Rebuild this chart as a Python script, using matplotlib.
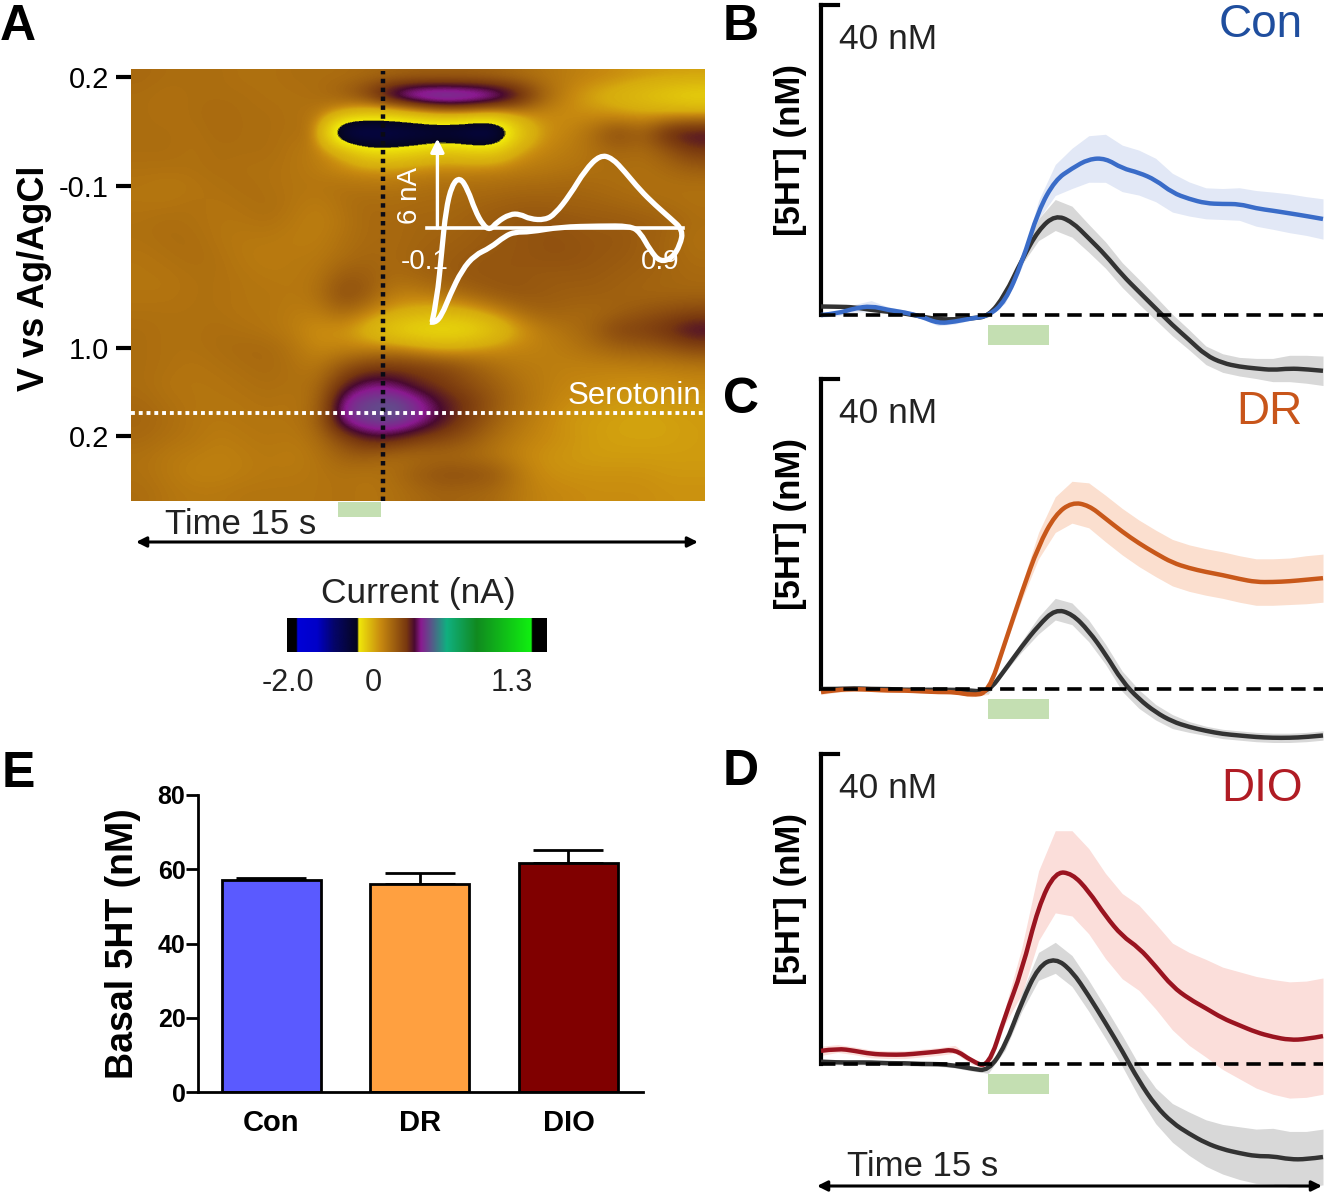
import matplotlib

matplotlib.use("Agg")
import matplotlib.pyplot as plt
import numpy as np
from matplotlib.colors import FuncNorm, LinearSegmentedColormap
from matplotlib.patches import PathPatch, Rectangle
from matplotlib.path import Path

plt.rcParams["font.family"] = ["Liberation Sans", "DejaVu Sans"]

WIDTH = 1326
HEIGHT = 1196

# colour plot, current in nA, rows top to bottom
current = [
    [.15, .14, .14, .14, .13, .13, .14, .14, .14, .15, .16, .17, .17, .17, .16, .14, .12, .10, .08, .06, .04, .03, .03],
    [.14, .13, .14, .14, .14, .13, .13, .14, .18, .28, .47, .54, .56, .54, .50, .39, .18, .08, .0, -.05, -.12, -.2, -.28],
    [.14, .13, .14, .15, .14, .14, .13, .12, .02, -.1, -.1, .02, .10, .1, .05, .06, .07, .06, .06, .04, .03, .04, .06],
    [.14, .14, .13, .15, .14, .14, .13, .13, -.9, -.9, -.85, -.8, -.75, -.85, -.95, -.2, .05, .08, .14, .25, .17, .33, .36],
    [.14, .14, .13, .14, .14, .14, .12, .1, -.02, -.3, -.3, -.22, -.12, -.18, -.2, .02, .08, .1, .13, .16, .14, .2, .28],
    [.13, .13, .13, .14, .13, .13, .12, .1, .07, .05, .05, .07, .08, .08, .09, .1, .11, .12, .13, .14, .13, .15, .18],
    [.12, .11, .12, .13, .14, .13, .12, .12, .13, .12, .12, .13, .14, .14, .14, .15, .15, .16, .15, .14, .13, .13, .13],
    [.12, .12, .13, .12, .13, .14, .12, .10, .13, .15, .14, .15, .15, .16, .17, .18, .18, .17, .17, .16, .15, .14, .13],
    [.13, .14, .13, .12, .12, .13, .11, .09, .12, .15, .15, .16, .16, .17, .19, .20, .21, .20, .19, .19, .18, .17, .14],
    [.13, .14, .14, .12, .11, .11, .10, .10, .13, .15, .15, .16, .17, .18, .19, .20, .21, .21, .20, .20, .18, .16, .13],
    [.12, .13, .14, .13, .11, .10, .11, .11, .14, .16, .15, .17, .18, .19, .20, .20, .21, .21, .20, .19, .18, .16, .14],
    [.12, .12, .13, .13, .12, .11, .11, .12, .19, .18, .14, .16, .18, .20, .20, .20, .19, .19, .19, .18, .17, .16, .15],
    [.12, .12, .13, .13, .12, .12, .11, .13, .23, .19, .10, .10, .13, .16, .19, .20, .19, .18, .18, .17, .16, .16, .16],
    [.13, .13, .13, .13, .12, .12, .10, .10, .16, .10, .02, -.02, -.04, .0, .07, .14, .17, .16, .15, .17, .2, .22, .24],
    [.14, .13, .13, .14, .13, .12, .10, .05, .05, -.05, -.2, -.3, -.34, -.3, -.15, .02, .1, .13, .17, .25, .26, .30, .36],
    [.14, .13, .13, .14, .15, .15, .12, .07, .08, .08, .1, .06, .02, .04, .06, .08, .09, .11, .14, .17, .18, .2, .24],
    [.14, .13, .12, .13, .14, .15, .13, .11, .2, .26, .27, .26, .24, .19, .14, .11, .10, .09, .09, .09, .1, .1, .11],
    [.14, .12, .12, .12, .13, .14, .13, .14, .30, .38, .37, .30, .27, .22, .18, .13, .1, .08, .07, .06, .05, .06, .07],
    [.15, .13, .12, .12, .12, .13, .12, .15, .42, .46, .48, .42, .33, .28, .2, .14, .1, .06, .05, .04, .03, .04, .04],
    [.16, .14, .12, .11, .12, .12, .12, .16, .42, .46, .48, .42, .34, .26, .18, .12, .08, .04, .03, .02, .01, .02, .03],
    [.15, .13, .12, .10, .11, .12, .11, .14, .24, .33, .33, .27, .24, .2, .14, .10, .07, .05, .03, .02, .02, .02, .03],
    [.13, .11, .10, .09, .1, .11, .10, .12, .17, .18, .14, .14, .15, .14, .12, .08, .05, .04, .03, .03, .03, .03, .03],
    [.13, .11, .09, .09, .1, .11, .11, .12, .13, .12, .14, .19, .22, .22, .2, .12, .06, .05, .05, .05, .05, .04, .04],
    [.14, .12, .11, .11, .12, .12, .12, .12, .13, .12, .13, .15, .17, .16, .15, .11, .08, .07, .06, .06, .06, .05, .05],
]
voltage_ticks = [0.44, 6.5, 15.5, 20.4]
voltage_labels = ["0.2", "-0.1", "1.0", "0.2"]

# voltammogram inset
cv_volts = [-.122, -.10, -.078, -.06, -.033, .003, .039, .07, .106, .138, .169, .227, .272, .317, .384,
            .429, .496, .564, .631, .685, .743, .81, .878, .945, 1.003, .99, .954, .90, .855, .81,
            .765, .631, .452, .317, .25, .205, .138, .07, .012, -.042, -.078, -.109, -.131]
cv_current = [-6.41, -4.91, -1.5, 1.23, 2.93, 3.48, 2.59, 1.23, .2, -.14, .41, .95, .95, .61, .55,
              .95, 2.25, 3.95, 4.98, 4.77, 3.82, 2.59, 1.57, .68, -.14, -1.16, -2.05, -2.32, -1.5, -.27,
              .14, .14, .07, -.27, -.27, -.55, -1.36, -1.84, -2.86, -4.57, -5.93, -6.48, -6.41]

# traces, one point every 0.5 s
time_s = np.arange(31) * 0.5
con_mean = [0, .2, .86, 1.16, .65, .34, -.2, -1.08, -.86, -.43, -.13, 1.72, 6.67, 13.55, 17.42, 18.92,
            20.13, 20.22, 18.92, 18.37, 17.42, 15.78, 14.97, 14.41, 14.32, 14.32, 13.76, 13.46, 13.12, 12.77, 12.39]
con_sem = [.3, .3, .5, .7, .4, .3, .3, .3, .3, .2, .1, .2, .5, 1.2, 2., 2.6,
           3., 3.1, 3., 2.9, 2.8, 2.5, 2.2, 2., 2., 2.1, 2.3, 2.4, 2.5, 2.5, 2.6]
con_ctrl_mean = [1.1, 1.07, 1., .65, .43, .2, -.2, -.56, -.56, -.43, -.2, 2.58, 7.1, 11, 12.9, 12.04,
                 9.9, 7.74, 5.16, 3.0, .86, -1.3, -3.2, -5.2, -6.2, -6.67, -6.9, -7.1, -6.9, -7, -7.2]
con_ctrl_sem = [.2, .2, .2, .2, .2, .2, .2, .2, .2, .2, .1, .2, .6, 1.4, 2.0, 2.0,
                1.8, 1.7, 1.6, 1.6, 1.5, 1.4, 1.3, 1.2, 1.2, 1.2, 1.3, 1.5, 1.7, 1.8, 1.9]

dr_mean = [-.4, -.1, 0, -.1, -.2, -.2, -.3, -.4, -.4, -.8, -.5, 6., 12.5, 18.5, 22.5, 24.1,
           23.7, 22, 20.3, 18.8, 17.5, 16.3, 15.6, 15.1, 14.7, 14.2, 13.8, 13.8, 13.9, 14.1, 14.3]
dr_sem = [.3, .3, .3, .2, .2, .2, .2, .2, .2, .2, .2, .5, 1., 1.7, 2.3, 2.7,
          2.9, 3, 3, 3, 3, 3, 3, 3, 3, 3, 3, 3, 3, 3.1, 3.1]
dr_ctrl_mean = [0, 0, .1, 0, 0, -.1, -.1, -.1, -.1, -.2, -.4, 2.5, 5.5, 8.2, 10.3, 9.7,
                7.5, 4.5, 1., -1.3, -3., -4.2, -4.9, -5.4, -5.8, -6, -6.2, -6.3, -6.3, -6.2, -6]
dr_ctrl_sem = [.2, .2, .2, .2, .2, .2, .2, .2, .2, .2, .2, .3, .7, 1.1, 1.4, 1.4,
               1.4, 1.3, 1.3, 1.2, 1.0, .9, .7, .6, .6, .6, .6, .6, .6, .6, .6]

dio_mean = [1.7, 2., 1.7, 1.3, 1.2, 1.2, 1.4, 1.6, 1.9, .4, -.5, 6.2, 12, 20.4, 24.8, 24.6,
            22.3, 19.1, 16.5, 15, 12.6, 10, 8.4, 7.2, 5.9, 5, 4.1, 3.5, 3.1, 3.2, 3.6]
dio_sem = [.6, .5, .5, .5, .5, .5, .5, .5, .5, .4, .3, 1, 3, 4.5, 5.3, 5.5,
           5.5, 5.5, 5.5, 5.5, 5.5, 5.6, 6, 6.3, 6.6, 6.9, 7.2, 7.4, 7.5, 7.5, 7.5]
dio_ctrl_mean = [.3, .2, .2, .2, .1, .1, 0, 0, -.2, -.6, -.9, 2.3, 8, 12.6, 13.7, 12,
                 8.8, 5.3, 1.7, -2.2, -5.4, -7.6, -9, -10.2, -11, -11.5, -11.9, -11.9, -12.3, -12.3, -12]
dio_ctrl_sem = [.3, .3, .3, .3, .3, .3, .3, .3, .3, .3, .3, .5, 1.2, 1.8, 2, 2,
                2, 2, 2, 2.1, 2.3, 2.5, 2.8, 3, 3.2, 3.4, 3.5, 3.6, 3.6, 3.6, 3.6]

# basal bars
groups = ["Con", "DR", "DIO"]
basal_mean = [57, 56, 61.7]
basal_sem = [0.7, 3, 3.4]
bar_colors = ["#5a5aff", "#ffa040", "#800000"]
basal_ticks = [0, 20, 40, 60, 80]

# colour scale, position along the bar and colour
scale_colors = [
    (0.0, "#000000"), (0.035, "#000000"), (0.04, "#0000d8"), (0.115, "#0000c8"), (0.18, "#05056a"),
    (0.27, "#05051e"), (0.276, "#f0e80a"), (0.36, "#c88a10"), (0.46, "#78380f"),
    (0.49, "#4a0a30"), (0.515, "#8a1a90"), (0.615, "#10b080"), (0.73, "#108a20"),
    (0.94, "#10f010"), (0.945, "#000000"), (1.0, "#000000"),
]
scale_cmap = LinearSegmentedColormap.from_list("fscv", scale_colors, N=512)


def add_axes_px(fig, left, top, right, bottom):
    return fig.add_axes([left / WIDTH, 1 - bottom / HEIGHT,
                         (right - left) / WIDTH, (bottom - top) / HEIGHT])


def current_to_scale(v):
    return np.interp(v, [-2.27, -2.0, 0.0, 1.3, 1.43], [0.0, 0.04, 0.33, 0.94, 1.0])


def scale_to_current(s):
    return np.interp(s, [0.0, 0.04, 0.33, 0.94, 1.0], [-2.27, -2.0, 0.0, 1.3, 1.43])


# curve through the midpoints, the points themselves act as control points
def plot_smooth(ax, x, y, **kwargs):
    pts = np.column_stack([x, y])
    mids = (pts[1:-1] + pts[2:]) / 2
    mids[-1] = pts[-1]
    verts = [pts[0]]
    codes = [Path.MOVETO]
    for ctrl, end in zip(pts[1:-1], mids):
        verts += [ctrl, end]
        codes += [Path.CURVE3, Path.CURVE3]
    ax.add_patch(PathPatch(Path(verts, codes), fill=False, **kwargs))


def draw_heatmap(fig):
    ax = add_axes_px(fig, 131, 69, 705, 501)
    norm = FuncNorm((current_to_scale, scale_to_current), vmin=-2.27, vmax=1.43)
    data = np.array(current)
    ax.imshow(data, cmap=scale_cmap, norm=norm, aspect="auto", interpolation="bicubic",
              interpolation_stage="data", extent=(0, data.shape[1], data.shape[0], 0))
    ax.axvline(10.1, ymax=0.995, color="#0a0a14", lw=3.2, ls=(0, (1, 1)))
    ax.axhline(19.1, color="white", lw=2.8, ls=(0, (1, 1)))
    ax.set_xticks([])
    ax.set_yticks(voltage_ticks, voltage_labels, fontsize=21)
    ax.tick_params(axis="y", length=11, width=3, pad=5)
    for s in ax.spines.values():
        s.set_visible(False)
    ax.text(22.85, 19.0, "Serotonin", color="white", fontsize=22.5, ha="right", va="bottom")


def draw_inset(fig):
    ax = add_axes_px(fig, 420, 130, 700, 335)
    ax.patch.set_visible(False)
    ax.axis("off")
    ax.set_xlim(-0.176, 1.079)
    ax.set_ylim(-7.29, 6.68)
    plot_smooth(ax, cv_volts, cv_current, edgecolor="white", lw=3.8, joinstyle="round")
    ax.plot([-0.145, 1.003], [0, 0], color="white", lw=2.6)
    ax.annotate("", xy=(-0.098, 6.1), xytext=(-0.098, 0),
                arrowprops=dict(arrowstyle="-|>", color="white", lw=2.4, mutation_scale=20, shrinkA=0, shrinkB=0))
    ax.text(-0.22, 2.25, "6 nA", color="white", fontsize=20, rotation=90, ha="center", va="center")
    ax.text(-0.154, -2.3, "-0.1", color="white", fontsize=20, ha="center", va="center")
    ax.text(0.90, -2.3, "0.9", color="white", fontsize=20, ha="center", va="center")


def draw_colorbar(fig):
    ax = add_axes_px(fig, 287, 618, 547, 652)
    ax.imshow(np.linspace(0, 1, 512)[None, :], cmap=scale_cmap, aspect="auto", vmin=0, vmax=1)
    ax.axis("off")


def draw_trace(fig, top, name, name_y, color, band, label_color, mean, sem, ctrl_mean, ctrl_sem):
    # 310 px are 40 nM, 15 s run over 502 px
    ax = add_axes_px(fig, 821, top, 1323, top + 434)
    ax.patch.set_visible(False)
    ax.set_xlim(0, 15)
    ax.set_ylim(-16, 40)
    ctrl_mean = np.array(ctrl_mean)
    ctrl_sem = np.array(ctrl_sem)
    mean = np.array(mean)
    sem = np.array(sem)
    ax.fill_between(time_s, mean - sem, mean + sem, color=band, lw=0, zorder=1)
    ax.fill_between(time_s, ctrl_mean - ctrl_sem, ctrl_mean + ctrl_sem, color="#d8d8d8", lw=0, zorder=2)
    plot_smooth(ax, time_s, ctrl_mean, edgecolor="#333333", lw=3.2, zorder=3, clip_on=False)
    plot_smooth(ax, time_s, mean, edgecolor=color, lw=3.2, zorder=4, clip_on=False)
    ax.axhline(0, color="black", lw=2.6, ls=(0, (4, 2.2)), zorder=5)
    ax.add_patch(Rectangle((5.0, -3.9), 1.8, 2.6, color="#c4dfb2", lw=0))
    ax.set_xticks([])
    ax.set_yticks([])
    for s in ["top", "right", "bottom"]:
        ax.spines[s].set_visible(False)
    ax.spines["left"].set_bounds(0, 40)
    ax.spines["left"].set_linewidth(3)
    ax.plot([0, 0.5], [40, 40], color="black", lw=3, clip_on=False, solid_capstyle="projecting")
    ax.text(0.55, 35.5, "40 nM", fontsize=25.5, va="center", color="#222222")
    ax.text(14.4, name_y, name, fontsize=33, color=label_color, ha="right", va="center")
    ax.text(-0.9, 21.3, "[5HT] (nM)", fontsize=25, fontweight="bold", rotation=90, ha="center", va="center")


def draw_bars(fig):
    ax = add_axes_px(fig, 198, 795, 643, 1092)
    x = [0, 1, 2]
    ax.bar(x, basal_mean, width=0.667, color=bar_colors, edgecolor="black", lw=2, zorder=2)
    ax.errorbar(x, basal_mean, yerr=[[0, 0, 0], basal_sem], fmt="none", ecolor="black",
                elinewidth=2, capsize=25, capthick=2, zorder=1)
    ax.set_xlim(-0.495, 2.502)
    ax.set_ylim(0, 80)
    ax.set_xticks(x, groups, fontsize=21, fontweight="bold")
    ax.set_yticks(basal_ticks)
    ax.tick_params(axis="y", labelsize=18, width=2, length=9, pad=0)
    ax.tick_params(axis="x", length=0, pad=12)
    for label in ax.get_yticklabels():
        label.set_fontweight("bold")
    for s in ["top", "right"]:
        ax.spines[s].set_visible(False)
    for s in ["left", "bottom"]:
        ax.spines[s].set_linewidth(2)
    ax.set_ylabel("Basal 5HT (nM)", fontsize=27, fontweight="bold", labelpad=12)


def draw_overlay(fig):
    # letters, arrows and labels that sit between the panels, in picture pixels
    ax = fig.add_axes([0, 0, 1, 1], zorder=10)
    ax.patch.set_visible(False)
    ax.axis("off")
    ax.set_xlim(0, WIDTH)
    ax.set_ylim(HEIGHT, 0)
    for letter, x, y in [("A", 18, 27), ("B", 741, 27), ("C", 741, 400), ("D", 741, 772), ("E", 18, 774)]:
        ax.text(x, y, letter, fontsize=36, fontweight="bold", ha="center", va="center")
    ax.text(35, 278, "V vs Ag/AgCl", fontsize=26, fontweight="bold", rotation=90, ha="center", va="center")
    ax.add_patch(Rectangle((338, 502), 43, 15, color="#c4dfb2", lw=0))
    ax.text(165, 525, "Time 15 s", fontsize=25, va="center", color="#222222")
    ax.text(847, 1166, "Time 15 s", fontsize=25, va="center", color="#222222")
    for x0, x1, y in [(136, 698, 542), (817, 1322, 1186)]:
        ax.annotate("", xy=(x0, y), xytext=(x1, y),
                    arrowprops=dict(arrowstyle="<|-|>", color="black", lw=2.2, mutation_scale=15, shrinkA=0, shrinkB=0))
    ax.text(418, 594, "Current (nA)", fontsize=25.5, ha="center", va="center", color="#222222")
    for x, label in [(288, "-2.0"), (373, "0"), (512, "1.3")]:
        ax.text(x, 683, label, fontsize=22, ha="center", va="center", color="#222222")


fig = plt.figure(figsize=(WIDTH / 100, HEIGHT / 100), dpi=100)
draw_heatmap(fig)
draw_inset(fig)
draw_colorbar(fig)
draw_trace(fig, 5, "Con", 37.4, "#3a6cc8", "#e2e8f6", "#1f4e9e", con_mean, con_sem, con_ctrl_mean, con_ctrl_sem)
draw_trace(fig, 379, "DR", 35.8, "#c8581a", "#fbdfcf", "#c8551a", dr_mean, dr_sem, dr_ctrl_mean, dr_ctrl_sem)
draw_trace(fig, 754, "DIO", 35.5, "#9a1420", "#fbdeda", "#b01c24", dio_mean, dio_sem, dio_ctrl_mean, dio_ctrl_sem)
draw_bars(fig)
draw_overlay(fig)
fig.savefig("out.png", dpi=100)
plt.close("all")
